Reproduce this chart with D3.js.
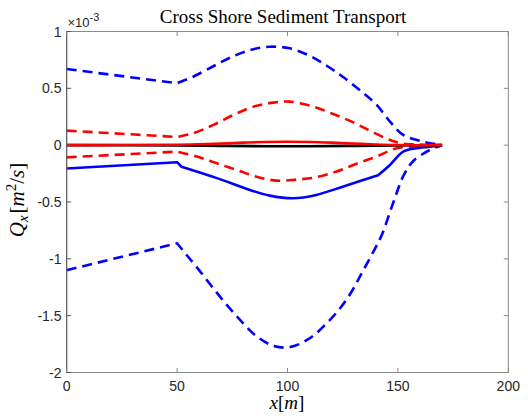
<!DOCTYPE html>
<html>
<head>
<meta charset="utf-8">
<script src="https://cdn.jsdelivr.net/npm/d3@7/dist/d3.min.js"></script>
<style>
  html, body { margin: 0; padding: 0; background: #fff; }
  svg { display: block; }
</style>
</head>
<body>
<svg id="chart" width="528" height="416"></svg>
<script>
// Cross-shore sediment transport Qx (units of 1e-3 m^2/s) along the profile x [m]

// Upper / lower envelopes of the wave-driven transport (blue dashed)
const blueUpperX = [0, 50, 57, 66, 74, 83, 92, 101, 110, 118.5, 126, 133.6, 140.4, 146.4, 152.4, 161.5, 170];
const blueUpperY = [0.67, 0.545, 0.60, 0.69, 0.77, 0.837, 0.866, 0.852, 0.787, 0.69, 0.588, 0.47, 0.354, 0.207, 0.09, 0.03, 0];
const blueLowerX = [0, 50, 54.3, 60.4, 66.4, 72.5, 78.5, 85.3, 93.6, 101, 110, 117.8, 123.8, 129, 133.6, 138.1, 142.7, 148, 152.7, 157, 164.5, 170];
const blueLowerY = [-1.10, -0.863, -0.966, -1.11, -1.26, -1.405, -1.537, -1.67, -1.766, -1.777, -1.70, -1.566, -1.435, -1.29, -1.127, -0.966, -0.79, -0.50, -0.262, -0.139, -0.042, 0];
// Mean transport (blue solid)
const blueMeanX = [0, 50, 52, 68, 83, 92, 102.6, 113, 125, 141, 146.4, 152.4, 158.5, 167.6, 170];
const blueMeanY = [-0.205, -0.15, -0.19, -0.29, -0.394, -0.444, -0.467, -0.438, -0.365, -0.265, -0.174, -0.057, -0.027, -0.007, 0];

// Upper / lower envelopes of the second component (red dashed)
const redUpperX = [0, 50, 57.3, 66.4, 75.5, 84.5, 93.6, 101, 111.7, 120.7, 129.8, 138.1, 146.4, 152, 160, 170];
const redUpperY = [0.128, 0.072, 0.105, 0.178, 0.266, 0.339, 0.374, 0.383, 0.339, 0.274, 0.2, 0.119, 0.046, 0.015, 0.005, 0];
const redLowerX = [0, 50, 59, 68, 77, 86, 95, 104, 113, 122, 131, 140.4, 149.5, 160, 170];
const redLowerY = [-0.107, -0.057, -0.10, -0.16, -0.218, -0.277, -0.312, -0.303, -0.282, -0.233, -0.165, -0.10, -0.027, -0.008, 0];
// Mean of the second component (red solid)
const redMeanX = [0, 50, 60, 70, 80, 90, 100, 110, 120, 130, 140, 150, 170];
const redMeanY = [0, 0.004, 0.008, 0.015, 0.022, 0.028, 0.03, 0.028, 0.022, 0.014, 0.006, 0.001, 0];
// Residual (black solid)
const blackX = [0, 50, 70, 90, 110, 130, 150, 170];
const blackY = [0, -0.002, -0.006, -0.009, -0.009, -0.006, -0.002, 0];

// Axis ticks
const xTicks = [0, 50, 100, 150, 200];
const yTicks = [1, 0.5, 0, -0.5, -1, -1.5, -2];
const yTickLabels = ["1", "0.5", "0", "-0.5", "-1", "-1.5", "-2"];

const svg = d3.select("#chart");
const plotLeft = 66.7, plotRight = 508.3, plotTop = 31.5, plotBottom = 372.5;

const x = d3.scaleLinear().domain([0, 200]).range([plotLeft, plotRight]);
const y = d3.scaleLinear().domain([-2, 1]).range([plotBottom, plotTop]);

// Build a path that stays sharp at the given break abscissae, smooth elsewhere
function pathFor(xs, ys, breaks) {
  const pts = xs.map((v, i) => [v, ys[i]]);
  const segs = [];
  let cur = [];
  pts.forEach(p => {
    cur.push(p);
    if (breaks.includes(p[0]) && cur.length > 1) { segs.push(cur); cur = [p]; }
  });
  if (cur.length > 1) segs.push(cur);
  const gen = d3.line().x(d => x(d[0])).y(d => y(d[1])).curve(d3.curveCatmullRom.alpha(0.5));
  return segs.map((s, i) => {
    const d = gen(s);
    return i === 0 ? d : "L" + d.slice(1);
  }).join("");
}

const plot = svg.append("g");

const series = [
  { xs: blueUpperX, ys: blueUpperY, br: [50], color: "#0000ff", dash: "10,6" },
  { xs: blueLowerX, ys: blueLowerY, br: [50], color: "#0000ff", dash: "10,6" },
  { xs: redUpperX, ys: redUpperY, br: [50], color: "#ff0000", dash: "10,6" },
  { xs: redLowerX, ys: redLowerY, br: [50], color: "#ff0000", dash: "10,6" },
  { xs: blueMeanX, ys: blueMeanY, br: [50, 52, 141], color: "#0000ff", dash: null },
  { xs: blackX, ys: blackY, br: [], color: "#000000", dash: null },
  { xs: redMeanX, ys: redMeanY, br: [50], color: "#ff0000", dash: null }
];

series.forEach(s => {
  plot.append("path")
    .attr("d", pathFor(s.xs, s.ys, s.br))
    .attr("fill", "none")
    .attr("stroke", s.color)
    .attr("stroke-width", 2.6)
    .attr("stroke-linejoin", "round")
    .attr("stroke-dasharray", s.dash);
});

// Axes box with inward ticks on all four sides
const axisColor = "#8a8a8a";
const box = svg.append("g");
box.append("rect")
  .attr("x", plotLeft).attr("y", plotTop)
  .attr("width", plotRight - plotLeft).attr("height", plotBottom - plotTop)
  .attr("fill", "none").attr("stroke", axisColor).attr("stroke-width", 1);
box.append("line")
  .attr("x1", plotLeft).attr("x2", plotLeft).attr("y1", plotTop).attr("y2", plotBottom)
  .attr("stroke", "#555").attr("stroke-width", 1);

const tickLen = 4.5;
xTicks.forEach(t => {
  box.append("line").attr("x1", x(t)).attr("x2", x(t)).attr("y1", plotBottom).attr("y2", plotBottom - tickLen).attr("stroke", axisColor);
  box.append("line").attr("x1", x(t)).attr("x2", x(t)).attr("y1", plotTop).attr("y2", plotTop + tickLen).attr("stroke", axisColor);
});
yTicks.forEach(t => {
  box.append("line").attr("x1", plotLeft).attr("x2", plotLeft + tickLen).attr("y1", y(t)).attr("y2", y(t)).attr("stroke", "#555");
  box.append("line").attr("x1", plotRight).attr("x2", plotRight - tickLen).attr("y1", y(t)).attr("y2", y(t)).attr("stroke", axisColor);
});

const labelFont = "'Liberation Sans', Arial, sans-serif";
const tickColor = "#262626";

svg.append("g").selectAll("text").data(xTicks).join("text")
  .attr("x", d => x(d)).attr("y", 391)
  .attr("text-anchor", "middle")
  .attr("font-family", labelFont).attr("font-size", 14).attr("fill", tickColor)
  .text(d => d);

svg.append("g").selectAll("text").data(yTicks).join("text")
  .attr("x", 61.5).attr("y", d => y(d) + 5)
  .attr("text-anchor", "end")
  .attr("font-family", labelFont).attr("font-size", 14).attr("fill", tickColor)
  .text((d, i) => yTickLabels[i]);

// Exponent multiplier
const expo = svg.append("text")
  .attr("x", 67.5).attr("y", 27)
  .attr("font-family", labelFont).attr("font-size", 13).attr("fill", tickColor);
expo.append("tspan").text("\u00d710");
expo.append("tspan").attr("dy", -6).attr("font-size", 11).text("-3");

// Title and axis labels (math-style serif)
const serif = "'Liberation Serif', 'Times New Roman', serif";
svg.append("text")
  .attr("x", 283).attr("y", 23)
  .attr("text-anchor", "middle")
  .attr("font-family", serif).attr("font-size", 19).attr("fill", "#000")
  .text("Cross Shore Sediment Transport");

const xl = svg.append("text")
  .attr("x", 287).attr("y", 409)
  .attr("text-anchor", "middle")
  .attr("font-family", serif).attr("font-size", 19).attr("fill", "#000");
xl.append("tspan").attr("font-style", "italic").text("x");
xl.append("tspan").text("[");
xl.append("tspan").attr("font-style", "italic").text("m");
xl.append("tspan").text("]");

const yl = svg.append("text")
  .attr("transform", "translate(24,200) rotate(-90)")
  .attr("text-anchor", "middle")
  .attr("font-family", serif).attr("font-size", 21).attr("fill", "#000");
yl.append("tspan").attr("font-style", "italic").text("Q");
yl.append("tspan").attr("font-style", "italic").attr("font-size", 15).attr("dy", 4).text("x");
yl.append("tspan").attr("dy", -4).attr("dx", 2).text("[");
yl.append("tspan").attr("font-style", "italic").text("m");
yl.append("tspan").attr("font-size", 15).attr("dy", -8).text("2");
yl.append("tspan").attr("dy", 8).text("/");
yl.append("tspan").attr("font-style", "italic").text("s");
yl.append("tspan").text("]");
</script>
</body>
</html>
